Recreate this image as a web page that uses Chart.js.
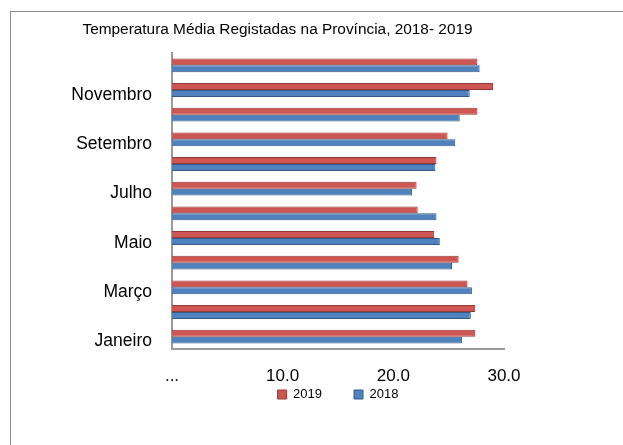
<!DOCTYPE html>
<html>
<head>
<meta charset="utf-8">
<script src="https://cdn.jsdelivr.net/npm/chart.js@4/dist/chart.umd.min.js"></script>
<style>
    body { margin: 0; background: #ffffff; }
    #frame {
        position: absolute; left: 10px; top: 11px; width: 613px; height: 434px;
        border-left: 1px solid #8c8c8c; border-top: 1px solid #8c8c8c;
    }
    #myChart { position: absolute; left: 0; top: 0; }
</style>
</head>
<body>
<div id="frame"></div>
<canvas id="myChart" width="623" height="445"></canvas>
<script>
const title = "Temperatura Média Registadas na Província, 2018- 2019";
const months = ["Janeiro", "Fevereiro", "Março", "Abril", "Maio", "Junho",
                "Julho", "Agosto", "Setembro", "Outubro", "Novembro", "Dezembro"];
const temp2019 = [27.4, 27.4, 26.7, 25.9, 23.7, 22.2, 22.1, 23.9, 24.9, 27.6, 29.0, 27.6];
const temp2018 = [26.2, 27.0, 27.1, 25.3, 24.2, 23.9, 21.7, 23.8, 25.6, 26.0, 26.9, 27.8];
const xTicks = [0, 10, 20, 30];

const font = "'Liberation Sans', Arial, sans-serif";

const data = {
    labels: months,
    datasets: [
        {
            label: '2019',
            data: temp2019,
            backgroundColor: '#cd5652',
            borderColor: '#933a37',
            borderWidth: 1
        },
        {
            label: '2018',
            data: temp2018,
            backgroundColor: '#4f81bd',
            borderColor: '#36598a',
            borderWidth: 1
        }
    ]
};

const config = {
    type: 'bar',
    data,
    options: {
        indexAxis: 'y',
        responsive: false,
        animation: false,
        categoryPercentage: 0.56,
        barPercentage: 1.0,
        layout: {
            padding: { left: 51, right: 119, top: 11, bottom: 34 }
        },
        plugins: {
            title: {
                display: true,
                text: title,
                color: '#000000',
                font: { family: font, size: 15.4, weight: 'normal' },
                padding: { top: 10, bottom: 13.5 }
            },
            legend: {
                position: 'bottom',
                fullSize: false,
                labels: {
                    boxWidth: 9,
                    boxHeight: 9,
                    padding: 32,
                    color: '#000000',
                    font: { family: font, size: 13 }
                }
            },
            tooltip: { enabled: false }
        },
        scales: {
            x: {
                min: 0,
                max: 30,
                afterBuildTicks: (scale) => {
                    scale.ticks = xTicks.map(v => ({ value: v }));
                },
                // labels are mirrored so they are not clipped by the short axis box
                afterFit: (scale) => { scale.height = 7; },
                grid: { display: false, drawTicks: false },
                border: { display: true, color: '#9a9a9a', width: 2 },
                ticks: {
                    mirror: true,
                    padding: -37.7,
                    color: '#000000',
                    maxRotation: 0,
                    font: { family: font, size: 17 },
                    callback: (value) => value === 0 ? '...' : value.toFixed(1)
                }
            },
            y: {
                reverse: true,
                afterFit: (scale) => { scale.width = 121; },
                grid: { display: false, drawTicks: false },
                border: { display: true, color: '#9a9a9a', width: 2 },
                ticks: {
                    autoSkip: false,
                    padding: 20,
                    labelOffset: 5,
                    color: '#000000',
                    font: { family: font, size: 17.5 },
                    callback: function (value, index) {
                        return index % 2 === 0 ? this.getLabelForValue(value) : '';
                    }
                }
            }
        }
    }
};

myChart = new Chart(document.getElementById('myChart'), config);
</script>
</body>
</html>
